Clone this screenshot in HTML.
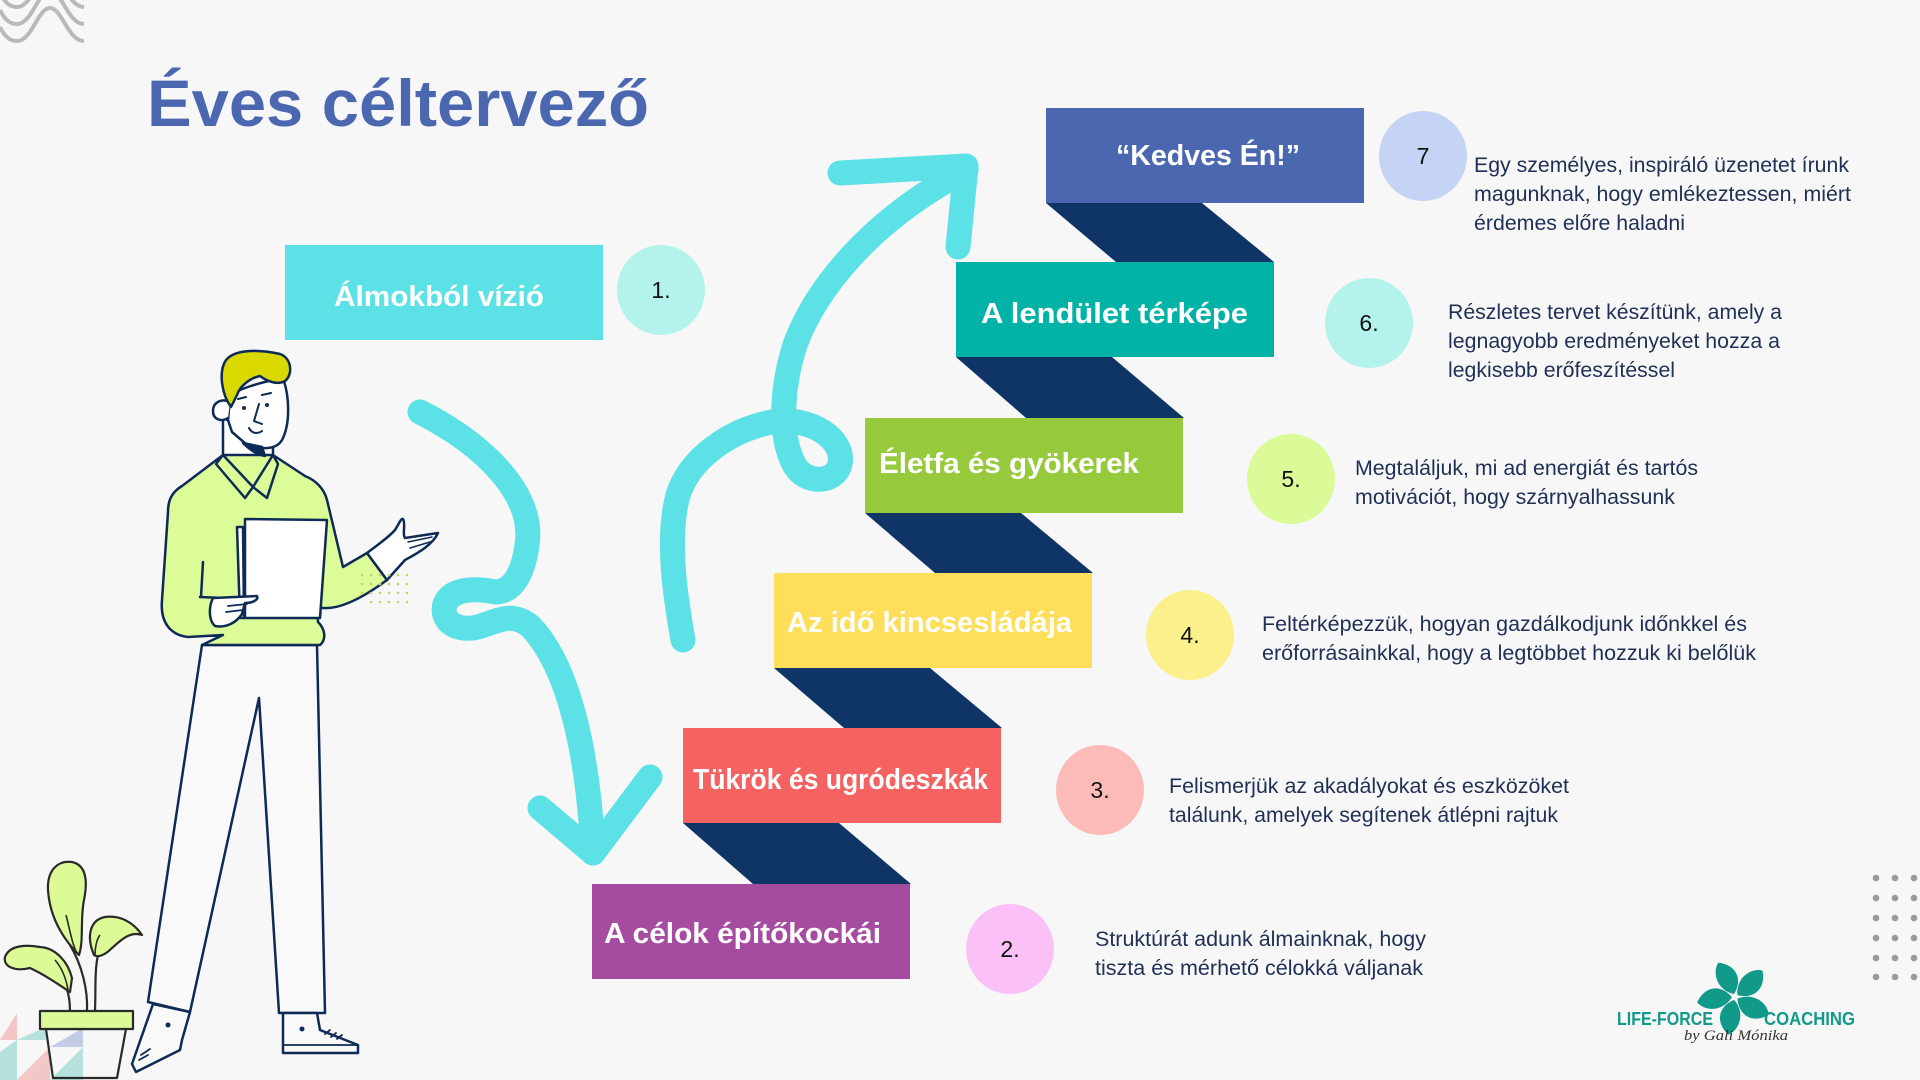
<!DOCTYPE html>
<html>
<head>
<meta charset="utf-8">
<style>
html,body{margin:0;padding:0;background:#f7f7f7;}
svg{display:block;}
.lbl{font-family:"Liberation Sans",sans-serif;font-weight:bold;font-size:29px;fill:#ffffff;}
.num{font-family:"Liberation Sans",sans-serif;font-size:23px;fill:#111111;}
.desc{font-family:"Liberation Sans",sans-serif;font-size:21px;fill:#1f2f55;}
</style>
</head>
<body>
<svg width="1920" height="1080" viewBox="0 0 1920 1080" xmlns="http://www.w3.org/2000/svg">
<rect width="1920" height="1080" fill="#f7f7f7"/>

<!-- top-left waves -->
<g fill="none" stroke="#b9b9b9" stroke-width="4">
<path d="M0,27 C5,37 10,41 17,41 C32,41 38,8 50,8 C62,8 68,41 84,41"/>
<path d="M0,10 C5,20 10,24 17,24 C32,24 38,-9 50,-9 C62,-9 68,24 84,24"/>
<path d="M0,-7 C5,3 10,7 17,7 C32,7 38,-26 50,-26 C62,-26 68,7 84,7"/>
</g>

<!-- Title -->
<text x="147" y="126" font-family="Liberation Sans, sans-serif" font-weight="bold" font-size="66" fill="#4a67b0" textLength="502" lengthAdjust="spacingAndGlyphs">Éves céltervező</text>

<!-- dark strips -->
<g fill="#0f3466">
<polygon points="1046,203 1202,203 1274,262 1116,262"/>
<polygon points="956,357 1112,357 1184,418 1026,418"/>
<polygon points="865,513 1021,513 1093,573 935,573"/>
<polygon points="774,668 930,668 1002,728 844,728"/>
<polygon points="683,823 839,823 911,884 753,884"/>
</g>

<!-- boxes -->
<rect x="285" y="245" width="318" height="95" fill="#5ce1e6"/>
<rect x="1046" y="108" width="318" height="95" fill="#4a67b0"/>
<rect x="956" y="262" width="318" height="95" fill="#00b3a6"/>
<rect x="865" y="418" width="318" height="95" fill="#97c93d"/>
<rect x="774" y="573" width="318" height="95" fill="#ffde59"/>
<rect x="683" y="728" width="318" height="95" fill="#f46262"/>
<rect x="592" y="884" width="318" height="95" fill="#a64ca0"/>

<!-- box labels -->
<text class="lbl" x="334" y="306" textLength="210" lengthAdjust="spacingAndGlyphs">Álmokból vízió</text>
<text class="lbl" x="1116" y="165" textLength="184" lengthAdjust="spacingAndGlyphs">“Kedves Én!”</text>
<text class="lbl" x="981" y="323" textLength="267" lengthAdjust="spacingAndGlyphs">A lendület térképe</text>
<text class="lbl" x="879" y="473" textLength="260" lengthAdjust="spacingAndGlyphs">Életfa és gyökerek</text>
<text class="lbl" x="787" y="632" textLength="285" lengthAdjust="spacingAndGlyphs">Az idő kincsesládája</text>
<text class="lbl" x="693" y="789" textLength="295" lengthAdjust="spacingAndGlyphs">Tükrök és ugródeszkák</text>
<text class="lbl" x="604" y="943" textLength="277" lengthAdjust="spacingAndGlyphs">A célok építőkockái</text>

<!-- circles -->
<ellipse cx="661" cy="290" rx="44" ry="45" fill="#b3f3ec"/>
<ellipse cx="1423" cy="156" rx="44" ry="45" fill="#c5d3f5"/>
<ellipse cx="1369" cy="323" rx="44" ry="45" fill="#b3f3ec"/>
<ellipse cx="1291" cy="479" rx="44" ry="45" fill="#dafb98"/>
<ellipse cx="1190" cy="635" rx="44" ry="45" fill="#fbf08b"/>
<ellipse cx="1100" cy="790" rx="44" ry="45" fill="#fcbbb7"/>
<ellipse cx="1010" cy="949" rx="44" ry="45" fill="#fbc1f6"/>

<g class="num" text-anchor="middle">
<text x="661" y="298">1.</text>
<text x="1423" y="164">7</text>
<text x="1369" y="331">6.</text>
<text x="1291" y="487">5.</text>
<text x="1190" y="643">4.</text>
<text x="1100" y="798">3.</text>
<text x="1010" y="957">2.</text>
</g>

<!-- descriptions -->
<g class="desc">
<text x="1474" y="172" textLength="375" lengthAdjust="spacingAndGlyphs">Egy személyes, inspiráló üzenetet írunk</text>
<text x="1474" y="201" textLength="377" lengthAdjust="spacingAndGlyphs">magunknak, hogy emlékeztessen, miért</text>
<text x="1474" y="230" textLength="211" lengthAdjust="spacingAndGlyphs">érdemes előre haladni</text>

<text x="1448" y="319" textLength="334" lengthAdjust="spacingAndGlyphs">Részletes tervet készítünk, amely a</text>
<text x="1448" y="348" textLength="332" lengthAdjust="spacingAndGlyphs">legnagyobb eredményeket hozza a</text>
<text x="1448" y="377" textLength="227" lengthAdjust="spacingAndGlyphs">legkisebb erőfeszítéssel</text>

<text x="1355" y="475" textLength="343" lengthAdjust="spacingAndGlyphs">Megtaláljuk, mi ad energiát és tartós</text>
<text x="1355" y="504" textLength="320" lengthAdjust="spacingAndGlyphs">motivációt, hogy szárnyalhassunk</text>

<text x="1262" y="631" textLength="485" lengthAdjust="spacingAndGlyphs">Feltérképezzük, hogyan gazdálkodjunk időnkkel és</text>
<text x="1262" y="660" textLength="494" lengthAdjust="spacingAndGlyphs">erőforrásainkkal, hogy a legtöbbet hozzuk ki belőlük</text>

<text x="1169" y="793" textLength="400" lengthAdjust="spacingAndGlyphs">Felismerjük az akadályokat és eszközöket</text>
<text x="1169" y="822" textLength="389" lengthAdjust="spacingAndGlyphs">találunk, amelyek segítenek átlépni rajtuk</text>

<text x="1095" y="946" textLength="331" lengthAdjust="spacingAndGlyphs">Struktúrát adunk álmainknak, hogy</text>
<text x="1095" y="975" textLength="328" lengthAdjust="spacingAndGlyphs">tiszta és mérhető célokká váljanak</text>
</g>

<!-- cyan arrows -->
<g fill="none" stroke="#5ce1e6" stroke-width="25" stroke-linecap="round" stroke-linejoin="round">
<path d="M420,412 C485,445 535,495 527,545 C523,575 512,592 495,592 C475,588 452,588 445,604 C440,622 458,632 478,627 C500,620 512,612 530,626 C568,665 588,750 593,853"/>
<path d="M540,808 L593,853 L650,777"/>
<path d="M683,640 C676,600 666,540 678,495 C690,458 730,430 772,422 C812,416 845,440 840,464 C835,484 806,484 795,466 C780,440 780,392 795,345 C815,290 870,220 966,170"/>
<path d="M840,173 L966,166 L958,247"/>
</g>

<!-- man -->
<g stroke="#0e2a56" stroke-width="2.5" stroke-linejoin="round" stroke-linecap="round">
<!-- pants -->
<path d="M202,645 L148,1002 L190,1012 L259,698 L279,1013 L325,1013 L317,645 Z" fill="#f9f9f9"/>
<!-- shoes -->
<path d="M153,1004 L132,1064 L136,1072 L180,1050 L182,1040 L190,1012 Z" fill="#f9f9f9"/>
<path d="M141,1055 L150,1049 M139,1060 L148,1055" fill="none" stroke-width="1.8"/>
<path d="M283,1013 L283,1053 L358,1053 L358,1045 L320,1030 L317,1013 Z" fill="#f9f9f9"/>
<path d="M283,1045 L358,1045" fill="none" stroke-width="1.8"/>
<circle cx="168" cy="1025" r="2.5" fill="#0e2a56" stroke="none"/>
<circle cx="302" cy="1029" r="2.5" fill="#0e2a56" stroke="none"/>
<path d="M325,1034 L330,1030 M331,1037 L336,1033 M337,1039 L342,1035" fill="none" stroke-width="1.8"/>
<!-- neck -->
<path d="M223,418 L223,460 L273,460 L273,440 Z" fill="#ffffff"/>
<!-- shirt -->
<path d="M223,455 L182,486 C172,492 168,500 168,512 L162,600 C160,622 170,635 188,637 L223,635 L202,645 L320,645 C326,640 326,630 318,622 L317,607 C335,612 360,600 387,580 L367,553 L343,567 L327,500 C324,488 315,480 305,476 L273,455 Z" fill="#dcfc98"/>
<path d="M203,562 L201,597" fill="none"/>
<path d="M200,597 L223,598" fill="none"/>
<!-- collar -->
<path d="M223,455 L216,464 L245,498 L253,487 Z" fill="#dcfc98"/>
<path d="M273,455 L278,464 L267,498 L253,487 Z" fill="#dcfc98"/>
<!-- face -->
<path d="M230,398 C232,390 262,382 283,378 C290,398 290,425 282,440 C276,450 262,450 246,444 L232,432 L228,420 Z" fill="#ffffff"/>
<path d="M243,443 C250,450 258,455 265,456 L262,447 Z" fill="#0e2a56"/>
<path d="M230,402 C222,398 213,402 213,411 C213,420 222,422 228,418" fill="#ffffff"/>
<!-- hair -->
<path d="M231,407 C222,395 218,372 226,360 C236,348 262,350 280,354 C292,358 293,375 285,381 C278,385 268,382 260,376 C250,378 240,386 237,395 Z" fill="#d9d900"/>
<!-- face details -->
<path d="M238,399 L246,397 M262,395 L271,393" fill="none" stroke-width="2"/>
<circle cx="244" cy="408" r="2" fill="#0e2a56" stroke="none"/>
<circle cx="267" cy="405" r="2" fill="#0e2a56" stroke="none"/>
<path d="M259,404 L254,421 L262,424" fill="none" stroke-width="2"/>
<path d="M249,428 C252,434 258,434 262,431" fill="none" stroke-width="2"/>
<!-- paper -->
<path d="M237,527 L243,527 L244,618 L240,618 Z" fill="#ffffff"/>
<path d="M245,519 L327,520 L320,618 L245,618 Z" fill="#ffffff"/>
<!-- left hand -->
<path d="M213,598 L257,596 C259,600 252,603 245,603 L242,614 C236,623 226,628 215,626 C208,620 209,606 213,598 Z" fill="#ffffff"/>
<path d="M228,606 L247,604 M226,612 L243,610" fill="none" stroke-width="1.8"/>
<!-- right hand -->
<path d="M367,553 C376,546 388,538 395,530 C399,524 401,518 403,519 C406,524 402,534 405,538 L438,533 C433,544 420,552 405,560 L387,580 Z" fill="#ffffff"/>
<path d="M408,542 L432,537 M410,548 L430,542" fill="none" stroke-width="1.6"/>
</g>
<!-- lime dots near hand -->
<g fill="#c8d46a">
<circle cx="362" cy="575" r="1.3"/><circle cx="371" cy="575" r="1.3"/><circle cx="380" cy="575" r="1.3"/><circle cx="389" cy="575" r="1.3"/><circle cx="398" cy="575" r="1.3"/><circle cx="407" cy="575" r="1.3"/>
<circle cx="362" cy="584" r="1.3"/><circle cx="371" cy="584" r="1.3"/><circle cx="380" cy="584" r="1.3"/><circle cx="389" cy="584" r="1.3"/><circle cx="398" cy="584" r="1.3"/><circle cx="407" cy="584" r="1.3"/>
<circle cx="362" cy="593" r="1.3"/><circle cx="371" cy="593" r="1.3"/><circle cx="380" cy="593" r="1.3"/><circle cx="389" cy="593" r="1.3"/><circle cx="398" cy="593" r="1.3"/><circle cx="407" cy="593" r="1.3"/>
<circle cx="371" cy="602" r="1.3"/><circle cx="380" cy="602" r="1.3"/><circle cx="389" cy="602" r="1.3"/><circle cx="398" cy="602" r="1.3"/><circle cx="407" cy="602" r="1.3"/>
</g>

<!-- bottom-left triangles -->
<g opacity="0.75">
<polygon points="0,1040 17,1013 17,1040" fill="#f4b8b8"/>
<polygon points="17,1040 46,1027 46,1040" fill="#9fdcd3"/>
<polygon points="50,1047 83,1028 83,1047" fill="#b3bde0"/>
<polygon points="0,1080 0,1052 17,1040 17,1080" fill="#9fdcd3"/>
<polygon points="17,1080 50,1047 50,1080" fill="#f4b8b8"/>
<polygon points="50,1080 83,1047 83,1080" fill="#9fdcd3"/>
</g>

<!-- plant -->
<g stroke="#2a2a2a" stroke-width="2.2" stroke-linejoin="round">
<path d="M70,1011 C70,995 66,980 55,970 M87,1011 C88,990 82,965 70,945 M95,1011 C96,985 94,965 100,948" fill="none"/>
<path d="M79,955 C68,944 50,922 48,890 C47,870 58,860 72,862 C86,865 88,880 84,900 C80,920 84,940 79,955 Z" fill="#dcfa96"/>
<path d="M94,955 C86,936 90,920 105,917 C120,915 133,922 142,935 C130,931 121,940 112,948 C105,955 98,958 94,955 Z" fill="#dcfa96"/>
<path d="M70,992 C58,984 45,975 30,968 C14,972 3,966 5,957 C9,946 24,944 40,947 C56,948 68,962 72,978 Z" fill="#dcfa96"/>
<path d="M66,915 C70,930 72,945 78,955 M55,960 C62,968 66,978 68,990 M100,935 C96,940 95,950 95,955" fill="none" stroke-width="1.6"/>
<polygon points="46,1029 126,1029 117,1078 53,1078" fill="none"/>
<rect x="40" y="1011" width="93" height="18" fill="#dcfa96"/>
</g>

<!-- dots grid right -->
<g fill="#9a9a9a">
<circle cx="1876" cy="878" r="3.3"/><circle cx="1895" cy="878" r="3.3"/><circle cx="1914" cy="878" r="3.3"/>
<circle cx="1876" cy="898" r="3.3"/><circle cx="1895" cy="898" r="3.3"/><circle cx="1914" cy="898" r="3.3"/>
<circle cx="1876" cy="918" r="3.3"/><circle cx="1895" cy="918" r="3.3"/><circle cx="1914" cy="918" r="3.3"/>
<circle cx="1876" cy="938" r="3.3"/><circle cx="1895" cy="938" r="3.3"/><circle cx="1914" cy="938" r="3.3"/>
<circle cx="1876" cy="958" r="3.3"/><circle cx="1895" cy="958" r="3.3"/><circle cx="1914" cy="958" r="3.3"/>
<circle cx="1876" cy="977" r="3.3"/><circle cx="1895" cy="977" r="3.3"/><circle cx="1914" cy="977" r="3.3"/>
</g>

<!-- logo -->
<g fill="#11998a">
<g transform="translate(1735,997)">
<path d="M0,-3 C-14,-12 -14,-30 -4,-38 C12,-30 14,-14 0,-3 Z" transform="rotate(-20)"/>
<path d="M0,-3 C-14,-12 -14,-30 -4,-38 C12,-30 14,-14 0,-3 Z" transform="rotate(52)"/>
<path d="M0,-3 C-14,-12 -14,-30 -4,-38 C12,-30 14,-14 0,-3 Z" transform="rotate(124)"/>
<path d="M0,-3 C-14,-12 -14,-30 -4,-38 C12,-30 14,-14 0,-3 Z" transform="rotate(196)"/>
<path d="M0,-3 C-14,-12 -14,-30 -4,-38 C12,-30 14,-14 0,-3 Z" transform="rotate(268)"/>
</g>
<text x="1617" y="1025" font-family="Liberation Sans, sans-serif" font-weight="bold" font-size="18" textLength="96" lengthAdjust="spacingAndGlyphs">LIFE-FORCE</text>
<text x="1764" y="1025" font-family="Liberation Sans, sans-serif" font-weight="bold" font-size="18" textLength="91" lengthAdjust="spacingAndGlyphs">COACHING</text>
</g>
<text x="1684" y="1040" font-family="Liberation Serif, serif" font-style="italic" font-size="15" fill="#333" textLength="104" lengthAdjust="spacingAndGlyphs">by Gali Mónika</text>
</svg>
</body>
</html>
